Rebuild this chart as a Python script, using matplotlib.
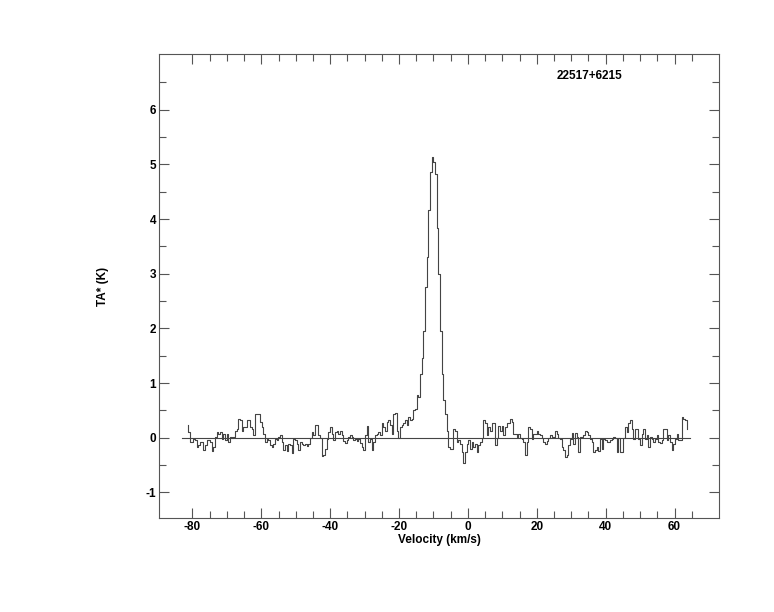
import numpy as np
import matplotlib
matplotlib.use("Agg")
import matplotlib.pyplot as plt
from matplotlib.ticker import FixedLocator

plt.rcParams['font.family'] = ['Liberation Sans', 'DejaVu Sans']
plt.rcParams['axes.unicode_minus'] = False

# Spectrum (antenna temperature in K), channels starting at v0 with spacing dv
v0 = -81.4
dv = 0.4838
ta_seg1 = [0.24, 0.10, -0.08, -0.08, -0.02, -0.05, -0.17, -0.14, -0.08, -0.08,
           -0.23, -0.14, -0.05, -0.05, -0.08, -0.24, -0.17, 0.01, 0.10, 0.07,
           0.11, -0.02, 0.07, -0.05, 0.07, -0.08, 0.02, 0.00, 0.02, 0.13,
           0.15, 0.35, 0.32, 0.13, 0.20, 0.20, 0.32, 0.33, 0.20, 0.16,
           0.04, 0.44, 0.44, 0.44, 0.29, 0.20, 0.07, -0.08, -0.02, -0.05,
           -0.14, -0.17, -0.11, -0.02, -0.04, 0.01, 0.05, -0.08, -0.23, -0.14,
           -0.24, -0.11, -0.14, -0.28, -0.02, -0.05, -0.11, -0.23, -0.08, -0.11,
           -0.14, -0.11, -0.16, -0.12]
ta_seg2 = [0.00, 0.10, 0.04, 0.24, 0.24, 0.04, 0.00, -0.34, -0.32, -0.20,
           -0.02, 0.10, 0.20, 0.07, -0.04, 0.10, 0.13, 0.07, 0.12, 0.04,
           -0.06, -0.10, -0.05, 0.02, 0.04, 0.02, -0.04, -0.02, -0.07, -0.02,
           -0.10, -0.17, -0.23, 0.04, 0.21, -0.08, -0.02, -0.22, -0.08, 0.04,
           0.07, 0.10, 0.04, 0.26, 0.20, 0.12, 0.29, 0.33, 0.23, 0.07,
           0.44, 0.45, 0.13, 0.00, 0.20, 0.24, 0.27, 0.33, 0.24, 0.38,
           0.32, 0.35, 0.50, 0.53, 0.78]
ta_peak = [0.74, 1.17, 1.45, 1.96, 2.76, 3.31, 4.16, 4.86, 5.14, 5.05,
           4.83, 3.83, 3.00, 1.96, 1.17, 0.68, 0.44, 0.13]
ta_seg3 = [-0.17, -0.20, -0.20, 0.15, 0.13, -0.08, -0.04, -0.11, -0.26, -0.46,
           -0.26, -0.11, -0.04, -0.20, -0.08, -0.17, -0.11, -0.26, -0.14, -0.08,
           0.00, 0.32, 0.26, 0.04, 0.20, 0.13, 0.26, 0.26, -0.14, 0.00,
           0.22, 0.13, 0.22, 0.04, 0.20, 0.26, 0.27, 0.35, 0.29, 0.06,
           0.06, 0.01, 0.07, 0.00, -0.02, -0.08, -0.31, -0.08, 0.20, 0.16,
           -0.02, 0.07, 0.07, 0.13, 0.07, 0.04, 0.00, -0.08, -0.11, -0.06,
           0.00, 0.04, 0.02, 0.01, 0.13, 0.07, 0.00, -0.02, -0.17, -0.23,
           -0.35, -0.32, -0.14, -0.02, 0.09, -0.11, 0.09, 0.01, -0.26, 0.01,
           0.02, 0.04, 0.13, 0.10, 0.04]
ta_seg4 = [-0.02, -0.08, -0.26, -0.23, -0.17, -0.24, -0.02, -0.20, -0.02, -0.05,
           -0.08, -0.08, -0.05, -0.02, 0.01, 0.00, -0.26, 0.00, -0.26, -0.26,
           0.00, 0.20, 0.10, 0.26, 0.32, 0.15, -0.02, 0.15, 0.15, -0.02,
           -0.14, 0.07, 0.15, -0.02, 0.04, -0.17, 0.01, -0.02, -0.08, -0.02,
           0.04, -0.08, -0.10, -0.05, 0.16, 0.16, -0.05, 0.04, -0.08, -0.23,
           -0.11, -0.02, 0.07, -0.04, -0.04, 0.37, 0.35, 0.32, 0.15]

ta = np.array(ta_seg1 + ta_seg2 + ta_peak + ta_seg3 + ta_seg4)
vel = v0 + dv * np.arange(len(ta))

source_name = "22517+6215"
baseline_range = (-83.0, 64.6)
x_major = [-80, -60, -40, -20, 0, 20, 40, 60]
x_minor = list(range(-80, 66, 5))
y_major = [-1, 0, 1, 2, 3, 4, 5, 6]
y_minor = [-0.5, 0.5, 1.5, 2.5, 3.5, 4.5, 5.5, 6.5]

fig = plt.figure(figsize=(7.74, 6.12), dpi=100)
ax = fig.add_axes([159/774, 1-518/612, (719-159)/774, (518-54)/612])

line_color = '#444444'
ax.step(vel, ta, where='mid', color=line_color, lw=0.8)
ax.plot(baseline_range, [0, 0], color=line_color, lw=0.8)

ax.set_xlim(-89.7, 72.9)
ax.set_ylim(-1.47, 7.02)

ax.xaxis.set_major_locator(FixedLocator(x_major))
ax.xaxis.set_minor_locator(FixedLocator(x_minor))
ax.yaxis.set_major_locator(FixedLocator(y_major))
ax.yaxis.set_minor_locator(FixedLocator(y_minor))
ax.tick_params(which='both', direction='in', top=True, right=True,
               color='#555555', width=0.8)
ax.tick_params(which='major', length=7.5, pad=2, labelsize=8.5)
ax.tick_params(which='minor', length=5)
for lab in ax.get_xticklabels() + ax.get_yticklabels():
    lab.set_fontweight('bold')
for sp in ax.spines.values():
    sp.set_color('#555555')
    sp.set_linewidth(0.8)

ax.set_xlabel('Velocity (km/s)', fontsize=8.5, fontweight='bold', labelpad=1)
ax.set_ylabel('TA* (K)', fontsize=8.5, fontweight='bold', labelpad=26)

ax.text(35.3, 6.62, source_name, fontsize=8.5, fontweight='bold',
        ha='center', va='center')

fig.savefig('out.png', dpi=100)
